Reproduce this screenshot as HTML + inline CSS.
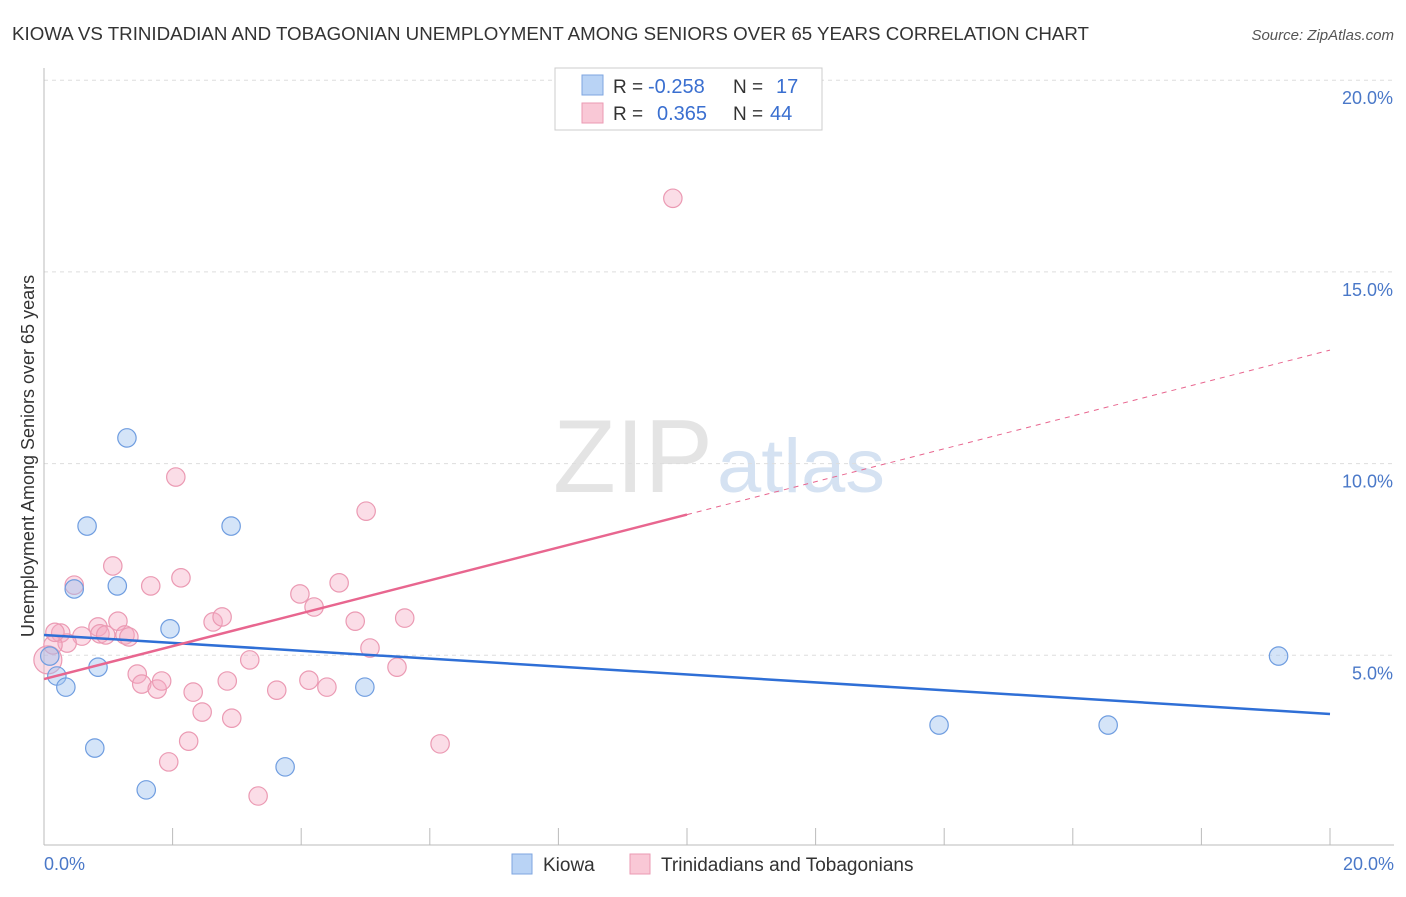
<!DOCTYPE html>
<html><head><meta charset="utf-8"><style>
body{margin:0;background:#fff;font-family:"Liberation Sans",sans-serif;}
svg text{font-family:"Liberation Sans",sans-serif;}
</style></head><body>
<svg id="chart" width="1406" height="892">
<text x="12" y="40" font-size="18" fill="#333" textLength="1077" lengthAdjust="spacingAndGlyphs">KIOWA VS TRINIDADIAN AND TOBAGONIAN UNEMPLOYMENT AMONG SENIORS OVER 65 YEARS CORRELATION CHART</text>
<text x="1394" y="40" font-size="15" fill="#555" text-anchor="end" font-style="italic">Source: ZipAtlas.com</text>
<text x="553" y="492" font-size="104" fill="#e4e4e4" font-family="Liberation Serif" textLength="160" lengthAdjust="spacingAndGlyphs">ZIP</text>
<text x="717" y="492" font-size="76" fill="#d5e2f2" textLength="168" lengthAdjust="spacingAndGlyphs">atlas</text>
<g id="grid"></g><g id="axes"></g><g id="pts"></g><g id="lines"></g>
<text transform="translate(34,456) rotate(-90)" font-size="18" fill="#333" text-anchor="middle">Unemployment Among Seniors over 65 years</text>
<text x="44" y="870" font-size="18" fill="#4a78c8">0.0%</text>
<text x="1394" y="870" font-size="18" fill="#4a78c8" text-anchor="end">20.0%</text>
<g>
<rect x="555" y="68" width="267" height="62" fill="#fff" stroke="#ccc"/>
<rect x="582" y="75" width="21" height="20" fill="#b9d3f5" stroke="#7ea6e0"/>
<rect x="582" y="103" width="21" height="20" fill="#f9c8d6" stroke="#eb9ab3"/>
<text x="613" y="93" font-size="19" fill="#333">R = </text><text x="648" y="93" font-size="20" fill="#3a6fd0">-0.258</text>
<text x="733" y="93" font-size="19" fill="#333">N = </text><text x="776" y="93" font-size="20" fill="#3a6fd0">17</text>
<text x="613" y="120" font-size="19" fill="#333">R = </text><text x="657" y="120" font-size="20" fill="#3a6fd0">0.365</text>
<text x="733" y="120" font-size="19" fill="#333">N = </text><text x="770" y="120" font-size="20" fill="#3a6fd0">44</text>
</g>
<g>
<rect x="512" y="854" width="20" height="20" fill="#b9d3f5" stroke="#7ea6e0"/>
<text x="543" y="871" font-size="19" fill="#333">Kiowa</text>
<rect x="630" y="854" width="20" height="20" fill="#f9c8d6" stroke="#eb9ab3"/>
<text x="661" y="871" font-size="19" fill="#333">Trinidadians and Tobagonians</text>
</g>
</svg>
<script>
const yTicks=[5,10,15,20];
const yTickLabels=["5.0%","10.0%","15.0%","20.0%"];
const xTicks=[0,2,4,6,8,10,12,14,16,18,20];
const kiowaX=[1.29,0.67,2.91,0.47,1.14,1.96,0.84,0.09,0.20,0.34,4.99,0.79,1.59,3.75,13.92,16.55,19.20];
const kiowaY=[10.67,8.37,8.37,6.73,6.81,5.69,4.69,4.98,4.46,4.17,4.17,2.58,1.49,2.09,3.18,3.18,4.98];
const trinX=[9.78,2.05,5.01,1.07,0.47,1.66,2.13,3.98,4.59,4.20,2.63,2.77,4.84,5.61,1.15,0.84,0.26,0.59,0.87,1.26,0.96,1.32,0.36,5.07,3.20,5.49,1.45,1.52,1.76,1.83,2.32,2.85,4.12,3.62,4.40,2.46,2.92,2.25,1.94,3.33,6.16,0.06,0.14,0.17];
const trinY=[16.92,9.65,8.76,7.33,6.83,6.81,7.02,6.60,6.89,6.26,5.87,6.00,5.89,5.97,5.89,5.74,5.58,5.50,5.56,5.53,5.53,5.48,5.32,5.19,4.88,4.69,4.51,4.25,4.12,4.33,4.04,4.33,4.35,4.09,4.17,3.52,3.36,2.76,2.22,1.33,2.69,4.88,5.27,5.60];
const kiowaTrend=[5.53,3.47];
const trinTrend=[4.38,12.96];
const trinSolidEnd=10;
const X=v=>44+v/20*1286, Y=v=>847-v/5*191.7;
const NS="http://www.w3.org/2000/svg";
function mk(p,t,a){const e=document.createElementNS(NS,t);for(const k in a)e.setAttribute(k,a[k]);document.getElementById(p).appendChild(e);return e;}
yTicks.forEach((t,i)=>{
 const l=mk('grid','line',{x1:44,x2:1394,y1:Y(t),y2:Y(t),stroke:'#ddd','stroke-dasharray':'4,4'});
 
 
 const tx=mk('grid','text',{x:1393,y:Y(t)+24,'font-size':18,fill:'#4a78c8','text-anchor':'end'});
 tx.textContent=yTickLabels[i];
 
 
});
const ax=mk('axes','line',{x1:44,x2:44,y1:68,y2:845,stroke:'#bbb'});


const bx=mk('axes','line',{x1:44,x2:1394,y1:845,y2:845,stroke:'#bbb'});


xTicks.forEach(t=>{const l=mk('axes','line',{x1:X(t),x2:X(t),y1:828,y2:845,stroke:'#bbb'});
 
 });
trinX.forEach((x,i)=>{const c=mk('pts','circle',{cx:X(x),cy:Y(trinY[i]),r:(i==41)?14:9.2,fill:'rgba(246,170,195,0.4)',stroke:'#eb9ab3','stroke-width':1.2});
 
 });
kiowaX.forEach((x,i)=>{const c=mk('pts','circle',{cx:X(x),cy:Y(kiowaY[i]),r:9.2,fill:'rgba(160,195,240,0.45)',stroke:'#6f9de0','stroke-width':1.2});
 
 });
const bl=mk('lines','line',{x1:X(0),y1:Y(kiowaTrend[0]),x2:X(20),y2:Y(kiowaTrend[1]),stroke:'#2f6fd6','stroke-width':2.5});


const ym=trinTrend[0]+(trinTrend[1]-trinTrend[0])*trinSolidEnd/20;
const pl=mk('lines','line',{x1:X(0),y1:Y(trinTrend[0]),x2:X(trinSolidEnd),y2:Y(ym),stroke:'#e8668f','stroke-width':2.5});


const pd=mk('lines','line',{x1:X(trinSolidEnd),y1:Y(ym),x2:X(20),y2:Y(trinTrend[1]),stroke:'#e8668f','stroke-width':1,'stroke-dasharray':'5,5'});


</script>
</body></html>
